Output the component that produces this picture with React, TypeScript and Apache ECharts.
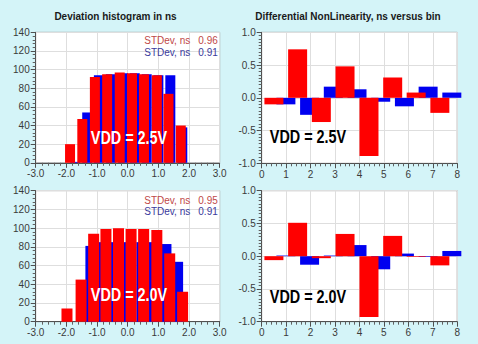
import React, { useEffect, useRef } from "react";
import * as echarts from "echarts";

// ---- Deviation histogram (ns) ----
const histXTicks = [-3, -2, -1, 0, 1, 2, 3];
const histYTicks = [0, 20, 40, 60, 80, 100, 120, 140];

// top (VDD = 2.5V)
const histTopRedX = [-1.88, -1.48, -1.07, -0.67, -0.26, 0.14, 0.53, 0.95, 1.33, 1.73];
const histTopRedY = [20, 47, 92, 95, 97, 96, 95, 94, 74, 40];
const histTopBlueX = [-1.71, -1.32, -0.94, -0.55, -0.15, 0.23, 0.62, 1.0, 1.39, 1.78];
const histTopBlueY = [1, 54, 94, 95, 96, 96, 95, 94, 94, 38];

// bottom (VDD = 2.0V)
const histBotRedX = [-1.98, -1.52, -1.11, -0.71, -0.3, 0.11, 0.52, 0.95, 1.37, 1.79];
const histBotRedY = [14, 45, 94, 99, 100, 99, 99, 98, 73, 32];
const histBotBlueX = [-2.03, -1.62, -1.2, -0.79, -0.37, 0.04, 0.46, 0.87, 1.28, 1.66];
const histBotBlueY = [0, 0, 81, 85, 85, 85, 85, 85, 83, 64];

// ---- Differential NonLinearity ----
const dnlXTicks = [0, 1, 2, 3, 4, 5, 6, 7, 8];
const dnlYTicks = [-1, -0.5, 0, 0.5, 1];
const dnlRedX = [0.5, 1.47, 2.44, 3.41, 4.39, 5.36, 6.32, 7.29];
const dnlBlueX = [0.99, 1.96, 2.93, 3.9, 4.87, 5.84, 6.81, 7.78];

const dnlTopRed = [-0.1, 0.74, -0.37, 0.48, -0.89, 0.31, 0.08, -0.23];
const dnlTopBlue = [-0.1, -0.26, 0.17, 0.13, -0.06, -0.13, 0.17, 0.08];
const dnlBotRed = [-0.06, 0.51, -0.03, 0.34, -0.93, 0.31, -0.01, -0.14];
const dnlBotBlue = [0.01, -0.13, 0.01, 0.17, -0.2, 0.04, -0.01, 0.08];

const titles = ["Deviation histogram in ns", "Differential NonLinearity, ns versus bin"];
const stdLabel = "STDev, ns";
const stdTopValues = ["0.96", "0.91"];
const stdBotValues = ["0.95", "0.91"];
const vddLabels = ["VDD = 2.5V", "VDD = 2.0V"];

const RED = "#ff0000";
const BLUE = "#0000f0";
const FONT = '"Liberation Sans", Arial, sans-serif';

const zip = (xs: number[], ys: number[]) => xs.map((x, i) => [x, ys[i]]);

function App() {
  const ref = useRef<HTMLDivElement>(null);

  useEffect(() => {
    if (!ref.current) return;
    const chart = echarts.init(ref.current, null, { renderer: "svg" });

    const gridBase = {
      show: true,
      backgroundColor: "#ffffff",
      borderColor: "#a0a0a0",
      borderWidth: 1,
    };
    const grids = [
      { ...gridBase, left: 35.7, top: 32.3, width: 184, height: 130.5 },
      { ...gridBase, left: 261.7, top: 32.3, width: 195.5, height: 131 },
      { ...gridBase, left: 35.7, top: 190.7, width: 184, height: 131 },
      { ...gridBase, left: 261.7, top: 190.7, width: 195.5, height: 131 },
    ];

    const axisCommon = (ticks: number[], minorSplit: number, fmt: (v: number) => string) => ({
      type: "value",
      min: ticks[0],
      max: ticks[ticks.length - 1],
      interval: ticks[1] - ticks[0],
      axisLine: { show: true, onZero: false, lineStyle: { color: "#505050", width: 1 } },
      axisTick: { show: true, length: 5, lineStyle: { color: "#505050" } },
      minorTick: { show: true, splitNumber: minorSplit, length: 3, lineStyle: { color: "#606060" } },
      splitLine: { show: true, lineStyle: { color: "#dedede", width: 1 } },
      axisLabel: {
        fontFamily: FONT,
        fontSize: 10,
        color: "#3a3a3a",
        margin: 6,
        formatter: fmt,
      },
    });

    const fmt1 = (v: number) => v.toFixed(1);
    const fmt0 = (v: number) => String(Math.round(v));

    const xAxis = [
      { ...axisCommon(histXTicks, 5, fmt1), gridIndex: 0 },
      { ...axisCommon(dnlXTicks, 5, fmt0), gridIndex: 1 },
      { ...axisCommon(histXTicks, 5, fmt1), gridIndex: 2 },
      { ...axisCommon(dnlXTicks, 5, fmt0), gridIndex: 3 },
    ];
    const yAxis = [
      { ...axisCommon(histYTicks, 5, fmt0), gridIndex: 0 },
      { ...axisCommon(dnlYTicks, 10, fmt1), gridIndex: 1 },
      { ...axisCommon(histYTicks, 5, fmt0), gridIndex: 2 },
      { ...axisCommon(dnlYTicks, 10, fmt1), gridIndex: 3 },
    ];

    const bar = (idx: number, data: number[][], color: string, width: number) => ({
      type: "bar",
      xAxisIndex: idx,
      yAxisIndex: idx,
      data,
      barWidth: width,
      barGap: "-100%",
      itemStyle: { color },
      silent: true,
    });

    const series = [
      bar(0, zip(histTopBlueX, histTopBlueY), BLUE, 10),
      bar(0, zip(histTopRedX, histTopRedY), RED, 10),
      bar(1, zip(dnlBlueX, dnlTopBlue), BLUE, 19),
      bar(1, zip(dnlRedX, dnlTopRed), RED, 19),
      bar(2, zip(histBotBlueX, histBotBlueY), BLUE, 10),
      bar(2, zip(histBotRedX, histBotRedY), RED, 11),
      bar(3, zip(dnlBlueX, dnlBotBlue), BLUE, 19),
      bar(3, zip(dnlRedX, dnlBotRed), RED, 19),
    ];

    const txt = (text: string, x: number, y: number, font: string, fill: string, align = "left", scaleX = 1) => ({
      type: "text",
      x,
      y,
      scaleX,
      z: 100,
      silent: true,
      style: {
        text,
        font,
        fill,
        textAlign: align,
        textVerticalAlign: "middle",
      },
    });

    const titleFont = `bold 10px ${FONT}`;
    const stdFont = `10px ${FONT}`;
    const vddFont = `bold 18px ${FONT}`;
    const stdRed = "#c04848";
    const stdBlue = "#3a3a9c";

    const graphic = [
      txt(titles[0], 115.5, 16, titleFont, "#1a1a1a", "center"),
      txt(titles[1], 348, 16, titleFont, "#1a1a1a", "center"),

      txt(stdLabel, 144.3, 40.7, stdFont, stdRed),
      txt(stdTopValues[0], 198.3, 40.7, stdFont, stdRed),
      txt(stdLabel, 144.3, 52.3, stdFont, stdBlue),
      txt(stdTopValues[1], 198.3, 52.3, stdFont, stdBlue),

      txt(stdLabel, 144.3, 200, stdFont, stdRed),
      txt(stdBotValues[0], 198.3, 200, stdFont, stdRed),
      txt(stdLabel, 144.3, 211.7, stdFont, stdBlue),
      txt(stdBotValues[1], 198.3, 211.7, stdFont, stdBlue),

      txt(vddLabels[0], 129, 137.5, vddFont, "#ffffff", "center", 0.8),
      txt(vddLabels[1], 129, 294, vddFont, "#ffffff", "center", 0.8),
      txt(vddLabels[0], 308, 136, vddFont, "#000000", "center", 0.8),
      txt(vddLabels[1], 308, 296.7, vddFont, "#000000", "center", 0.8),
    ];

    chart.setOption({
      animation: false,
      backgroundColor: "#d4f4f8",
      grid: grids,
      xAxis,
      yAxis,
      series,
      graphic,
    } as any);

    return () => {
      chart.dispose();
    };
  }, []);

  return (
    <div
      ref={ref}
      style={{ position: "absolute", left: 0, top: 0, width: 478, height: 344 }}
    />
  );
}

export default App;
